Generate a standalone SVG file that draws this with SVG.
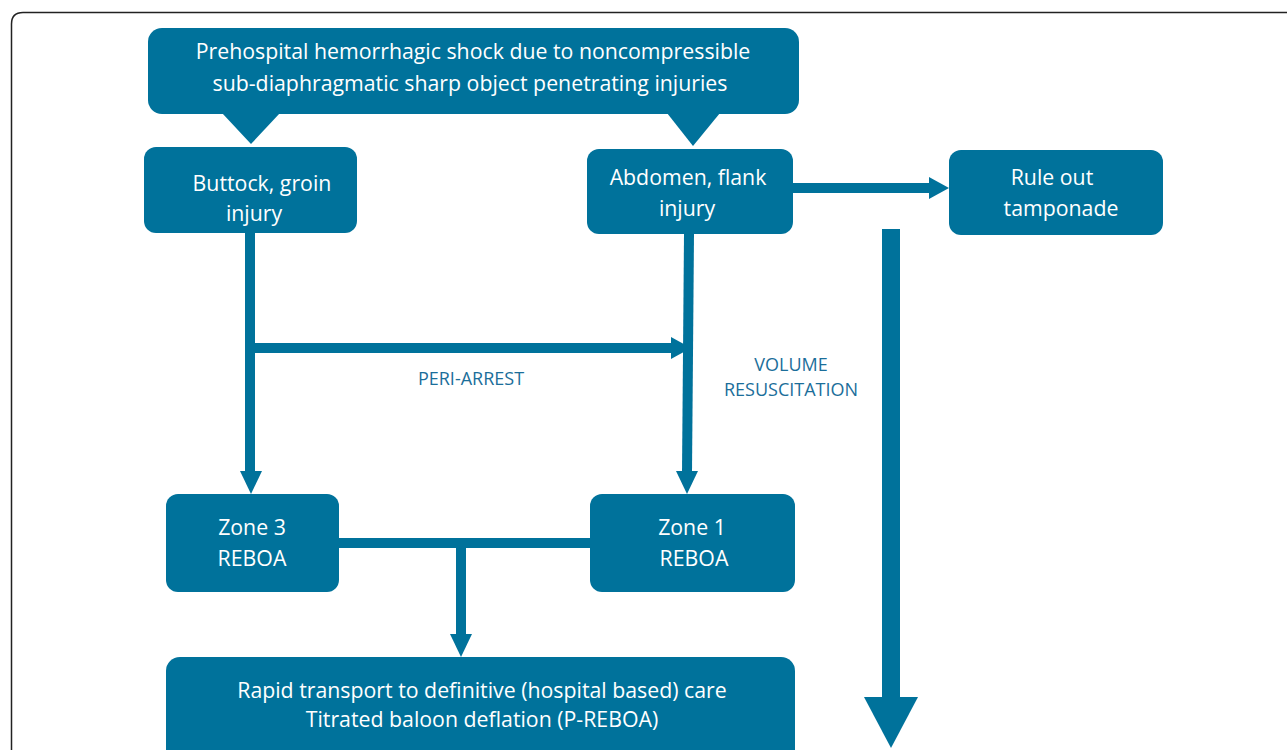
<svg xmlns="http://www.w3.org/2000/svg" width="1287" height="750" viewBox="0 0 1287 750">
<defs>
<style>
.box{fill:#00729b;}
.t{font-family:"Open Sans","Noto Sans",sans-serif;font-size:21.3px;fill:#ffffff;text-anchor:middle;}
.lbl{font-family:"Open Sans","Noto Sans",sans-serif;font-size:18px;fill:#1b6e9a;text-anchor:middle;}
.c{fill:#00729b;}
</style>
</defs>
<rect width="1287" height="750" fill="#ffffff"/>
<path d="M11.5,780 V24 Q11.5,12.5 23,12.5 H1300" fill="none" stroke="#222" stroke-width="1.5"/>

<g id="connectors">
<!-- Abdomen to Rule out -->
<rect class="c" x="793" y="183" width="138" height="10"/>
<polygon class="c" points="929,177 949,188 929,199"/>
<!-- big down arrow -->
<rect class="c" x="882" y="229" width="18" height="470"/>
<polygon class="c" points="864,697 918,697 891,748"/>
<!-- left vertical -->
<rect class="c" x="245" y="233" width="10" height="240"/>
<polygon class="c" points="240,471 262,471 251,494"/>
<!-- peri-arrest horizontal -->
<rect class="c" x="255" y="343" width="418" height="10"/>
<polygon class="c" points="671,337 691,348 671,359"/>
<!-- right vertical -->
<polygon class="c" points="684,234 694,234 692,473 682,473"/>
<polygon class="c" points="676,471 698,471 687,494"/>
<!-- zone connector -->
<rect class="c" x="339" y="538" width="251" height="10"/>
<rect class="c" x="456" y="548" width="10" height="88"/>
<polygon class="c" points="450,634 472,634 461,657"/>
</g>

<g id="top">
<rect class="box" x="148" y="28" width="651" height="86" rx="14"/>
<polygon class="box" points="222,113 280,113 251,144"/>
<polygon class="box" points="667,113 720,113 693,146"/>
<text class="t" x="473" y="59">Prehospital hemorrhagic shock due to noncompressible</text>
<text class="t" x="470" y="91">sub-diaphragmatic sharp object penetrating injuries</text>
</g>

<g id="buttock">
<rect class="box" x="144" y="147" width="213" height="86" rx="12"/>
<text class="t" x="262" y="191">Buttock, groin</text>
<text class="t" x="254" y="221">injury</text>
</g>

<g id="abdomen">
<rect class="box" x="587" y="149" width="206" height="85" rx="12"/>
<text class="t" x="688" y="185">Abdomen, flank</text>
<text class="t" x="687" y="216">injury</text>
</g>

<g id="ruleout">
<rect class="box" x="949" y="150" width="214" height="85" rx="12"/>
<text class="t" x="1052" y="185">Rule out</text>
<text class="t" x="1061" y="216">tamponade</text>
</g>

<g id="labels">
<text class="lbl" x="471" y="385">PERI-ARREST</text>
<text class="lbl" x="791" y="371">VOLUME</text>
<text class="lbl" x="791" y="396">RESUSCITATION</text>
</g>

<g id="zone3">
<rect class="box" x="166" y="494" width="173" height="98" rx="12"/>
<text class="t" x="252" y="535">Zone 3</text>
<text class="t" x="252" y="566">REBOA</text>
</g>

<g id="zone1">
<rect class="box" x="590" y="494" width="205" height="98" rx="12"/>
<text class="t" x="692" y="535">Zone 1</text>
<text class="t" x="694" y="566">REBOA</text>
</g>

<g id="transport">
<rect class="box" x="166" y="657" width="629" height="110" rx="14"/>
<text class="t" x="482" y="698">Rapid transport to definitive (hospital based) care</text>
<text class="t" x="482" y="727">Titrated baloon deflation (P-REBOA)</text>
</g>
</svg>
